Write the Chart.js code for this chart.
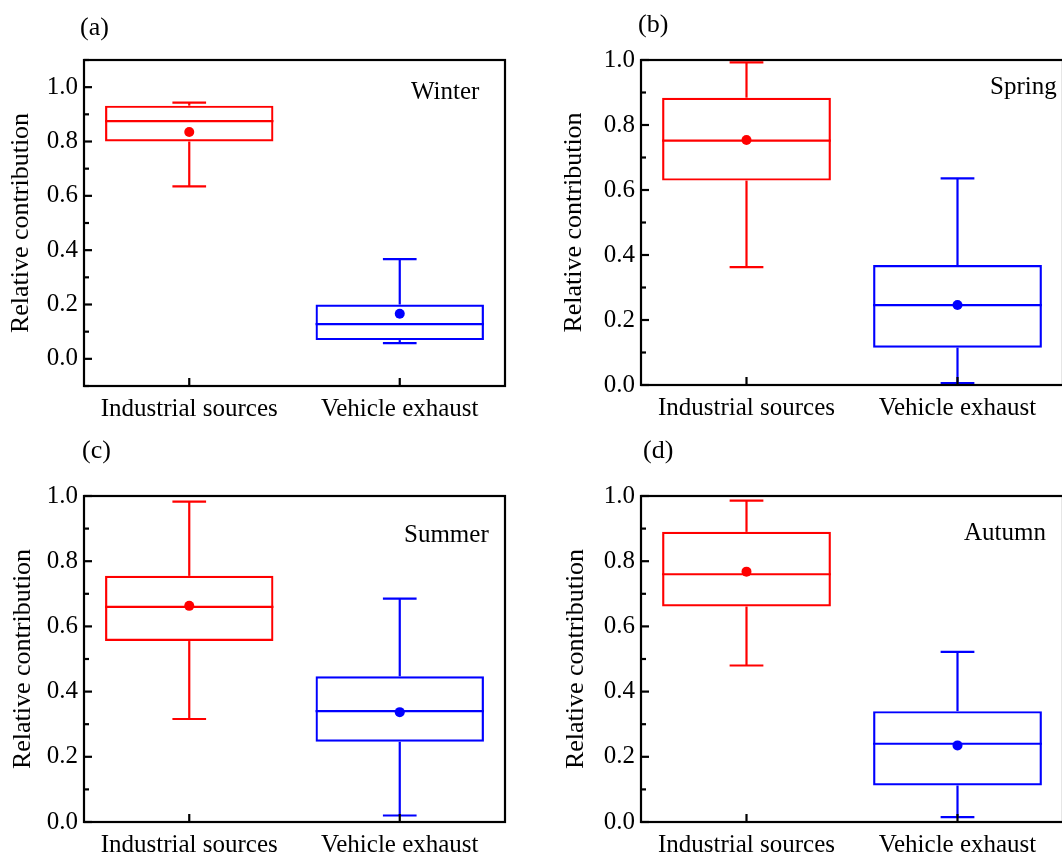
<!DOCTYPE html>
<html>
<head>
<meta charset="utf-8">
<script src="https://cdn.jsdelivr.net/npm/chart.js@4.4.0/dist/chart.umd.min.js"></script>
<style>
    html, body {
        margin: 0;
        padding: 0;
        background: #fff;
        overflow: hidden;
        width: 1062px;
        height: 853px;
    }
    body {
        position: relative;
        font-family: "Liberation Serif", "Times New Roman", serif;
    }
    canvas {
        position: absolute;
    }
    .lbl {
        position: absolute;
        font-size: 26px;
        line-height: 26px;
        color: #000;
        white-space: nowrap;
    }
</style>
</head>
<body>
<canvas id="chartA" width="531" height="426" style="left:0;top:0"></canvas>
<canvas id="chartB" width="540" height="426" style="left:531px;top:0"></canvas>
<canvas id="chartC" width="531" height="427" style="left:0;top:426px"></canvas>
<canvas id="chartD" width="540" height="427" style="left:531px;top:426px"></canvas>

<div class="lbl" style="left:80px;top:14px">(a)</div>
<div class="lbl" style="left:638px;top:11px">(b)</div>
<div class="lbl" style="left:82px;top:437px">(c)</div>
<div class="lbl" style="left:643px;top:437px">(d)</div>

<div class="lbl" style="left:411px;top:78px;font-size:25px">Winter</div>
<div class="lbl" style="left:990px;top:73px;font-size:25px">Spring</div>
<div class="lbl" style="left:404px;top:521px;font-size:25px">Summer</div>
<div class="lbl" style="left:964px;top:519px;font-size:25px">Autumn</div>

<script>
// Data (one row per season: [Industrial sources, Vehicle exhaust])
const categories = ['Industrial sources', 'Vehicle exhaust'];
const seasons = ['Winter', 'Spring', 'Summer', 'Autumn'];
const whiskerLow  = [[0.635, 0.058], [0.363, 0.006], [0.316, 0.020], [0.480, 0.015]];
const quartile1   = [[0.800, 0.069], [0.629, 0.115], [0.555, 0.246], [0.661, 0.112]];
const medians     = [[0.875, 0.128], [0.752, 0.246], [0.660, 0.340], [0.760, 0.240]];
const quartile3   = [[0.932, 0.200], [0.884, 0.369], [0.755, 0.447], [0.890, 0.340]];
const whiskerHigh = [[0.943, 0.367], [0.993, 0.636], [0.983, 0.685], [0.986, 0.522]];
const means       = [[0.835, 0.166], [0.754, 0.246], [0.663, 0.337], [0.768, 0.235]];
const yTickLabels = ['0.0', '0.2', '0.4', '0.6', '0.8', '1.0'];
const yMins = [-0.1, 0, 0, 0];
const yMaxs = [1.1, 1, 1, 1];

const boxColors = ['#ff0000', '#0000ff'];

// Plot area of each panel inside its canvas
const panels = [
    { id: 'chartA', left: 84, top: 60, right: 505, bottom: 386, titlePad: 6 },
    { id: 'chartB', left: 110, top: 60, right: 532, bottom: 385, titlePad: 28 },
    { id: 'chartC', left: 84, top: 70, right: 505, bottom: 396, titlePad: 8 },
    { id: 'chartD', left: 110, top: 70, right: 532, bottom: 396, titlePad: 30 }
];

Chart.defaults.font.family = '"Liberation Serif", "Times New Roman", serif';
Chart.defaults.color = '#000';

// Whiskers and median lines, drawn under the boxes
const whiskers = {
    id: 'whiskers',
    beforeDatasetsDraw(chart, args, opts) {
        const s = opts.season;
        const { ctx, scales: { x, y } } = chart;
        const slot = x.width / categories.length;
        const boxHalf = slot * 0.4;
        const capHalf = slot * 0.08;
        const line = (x1, y1, x2, y2) => {
            ctx.beginPath();
            ctx.moveTo(x1, y1);
            ctx.lineTo(x2, y2);
            ctx.stroke();
        };
        ctx.save();
        ctx.lineWidth = 2.2;
        categories.forEach((c, i) => {
            const px = x.getPixelForValue(i);
            const yLo = y.getPixelForValue(whiskerLow[s][i]);
            const yQ1 = y.getPixelForValue(quartile1[s][i]);
            const yMed = y.getPixelForValue(medians[s][i]);
            const yQ3 = y.getPixelForValue(quartile3[s][i]);
            const yHi = y.getPixelForValue(whiskerHigh[s][i]);
            ctx.strokeStyle = boxColors[i];
            line(px, yLo, px, yQ1);
            line(px, yQ3, px, yHi);
            line(px - capHalf, yLo, px + capHalf, yLo);
            line(px - capHalf, yHi, px + capHalf, yHi);
            line(px - boxHalf, yMed, px + boxHalf, yMed);
        });
        ctx.restore();
    }
};

// Frame round the plot and inward ticks
const frameTicks = {
    id: 'frameTicks',
    afterDraw(chart) {
        const { ctx, chartArea: a, scales: { x, y } } = chart;
        ctx.save();
        ctx.strokeStyle = '#000';
        ctx.lineWidth = 2.2;
        ctx.strokeRect(a.left, a.top, a.right - a.left, a.bottom - a.top);
        y.ticks.forEach(t => {
            const major = Math.round(t.value * 10) % 2 === 0;
            const py = y.getPixelForValue(t.value);
            ctx.beginPath();
            ctx.moveTo(a.left, py);
            ctx.lineTo(a.left + (major ? 8 : 5), py);
            ctx.stroke();
        });
        x.ticks.forEach((t, i) => {
            const px = x.getPixelForTick(i);
            ctx.beginPath();
            ctx.moveTo(px, a.bottom);
            ctx.lineTo(px, a.bottom - 8);
            ctx.stroke();
        });
        ctx.restore();
    }
};

function makeChart(p, s) {
    const canvas = document.getElementById(p.id);
    const w = canvas.width;
    const h = canvas.height;
    new Chart(canvas, {
        data: {
            labels: categories,
            datasets: [
                {
                    type: 'bar',
                    data: quartile1[s].map((q, i) => [q, quartile3[s][i]]),
                    backgroundColor: 'rgba(0,0,0,0)',
                    borderColor: boxColors,
                    borderWidth: 2.2,
                    borderSkipped: false,
                    barPercentage: 0.8,
                    categoryPercentage: 1.0,
                    order: 2
                },
                {
                    type: 'line',
                    data: means[s],
                    showLine: false,
                    pointRadius: 5,
                    pointBorderWidth: 0,
                    pointBackgroundColor: boxColors,
                    order: 1
                }
            ]
        },
        options: {
            responsive: false,
            animation: false,
            layout: {
                padding: { left: 0, top: p.top, right: w - p.right, bottom: 0 }
            },
            plugins: {
                legend: { display: false },
                tooltip: { enabled: false },
                whiskers: { season: s }
            },
            scales: {
                x: {
                    type: 'category',
                    offset: true,
                    grid: { display: false, drawTicks: false },
                    border: { display: false },
                    ticks: {
                        font: { size: 25 },
                        padding: 8,
                        maxRotation: 0,
                        autoSkip: false
                    },
                    afterFit: scale => { scale.height = h - p.bottom; }
                },
                y: {
                    min: yMins[s],
                    max: yMaxs[s],
                    grid: { display: false, drawTicks: false },
                    border: { display: false },
                    ticks: {
                        stepSize: 0.1,
                        maxTicksLimit: 20,
                        autoSkip: false,
                        font: { size: 25 },
                        padding: 6,
                        callback: value => {
                            const k = Math.round(value * 10);
                            return (k % 2 === 0 && k >= 0 && k <= 10) ? yTickLabels[k / 2] : '';
                        }
                    },
                    title: {
                        display: true,
                        text: 'Relative contribution',
                        font: { size: 26, lineHeight: 1.2 },
                        padding: { top: p.titlePad, bottom: 0 }
                    },
                    afterFit: scale => { scale.width = p.left; }
                }
            }
        },
        plugins: [whiskers, frameTicks]
    });
}

panels.forEach((p, s) => makeChart(p, s));
</script>
</body>
</html>
